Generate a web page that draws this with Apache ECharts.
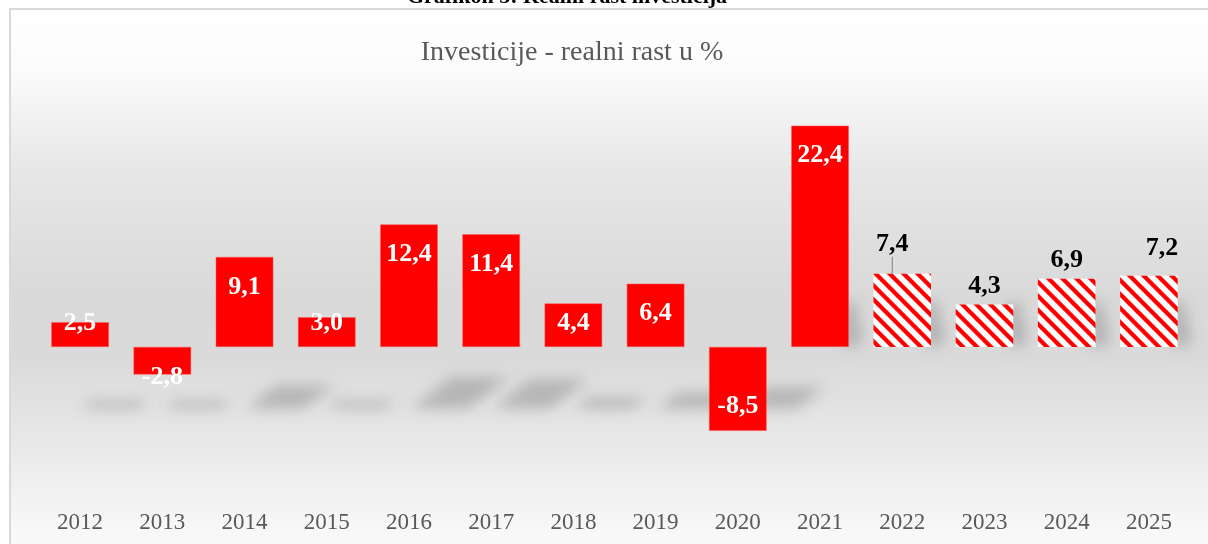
<!DOCTYPE html>
<html>
<head>
<meta charset="utf-8">
<script src="https://cdn.jsdelivr.net/npm/echarts@6/dist/echarts.min.js"></script>
<style>
  html, body { margin: 0; padding: 0; background: #fff; }
  #chart { width: 1208px; height: 544px; }
</style>
</head>
<body>
<div id="chart"></div>
<script>
// podaci
const years = ['2012', '2013', '2014', '2015', '2016', '2017', '2018', '2019', '2020', '2021', '2022', '2023', '2024', '2025']
const growth = [2.5, -2.8, 9.1, 3.0, 12.4, 11.4, 4.4, 6.4, -8.5, 22.4, 7.4, 4.3, 6.9, 7.2]
const forecastYears = ['2022', '2023', '2024', '2025'] // projekcija - šrafirano
const chartTitle = 'Investicije - realni rast u %'
const captionTitle = 'Grafikon 5: Realni rast investicija'

const serif = '"Liberation Serif", "DejaVu Serif", serif'
const yMin = -15
const yMax = 25

const fmt = (v) => v.toFixed(1).replace('.', ',')
const isForecast = (i) => forecastYears.includes(years[i])

// crveno-bijele dijagonalne linije
function stripePattern() {
  const s = 14
  const c = document.createElement('canvas')
  c.width = s
  c.height = s
  const ctx = c.getContext('2d')
  ctx.fillStyle = '#ffffff'
  ctx.fillRect(0, 0, s, s)
  ctx.strokeStyle = '#ff0000'
  ctx.lineWidth = 4.2
  for (let k = -1; k <= 1; k++) {
    ctx.beginPath()
    ctx.moveTo(k * s - 2, -2)
    ctx.lineTo(k * s + s + 2, s + 2)
    ctx.stroke()
  }
  return c
}
const pattern = stripePattern()

const barData = growth.map((v, i) => {
  if (isForecast(i)) {
    return {
      value: v,
      itemStyle: { color: { image: pattern, repeat: 'repeat' }, borderWidth: 0 },
      label: { position: 'top', color: '#000000', distance: 5 },
      labelLine: { show: years[i] === '2022', lineStyle: { color: '#7f7f7f', width: 1 } },
    }
  }
  return { value: v, label: { position: 'inside' } }
})

const myChart = echarts.init(document.getElementById('chart'))

const option = {
  animation: false,
  backgroundColor: '#ffffff',
  grid: { left: 39, right: 18, top: 100, height: 395, containLabel: false },
  graphic: [
    {
      type: 'rect',
      z: -10,
      silent: true,
      shape: { x: 10, y: 9, width: 1400, height: 560 },
      style: {
        fill: new echarts.graphic.LinearGradient(0, 0, 0, 1, [
          { offset: 0, color: '#ffffff' },
          { offset: 0.1, color: '#fcfcfc' },
          { offset: 0.3, color: '#e6e6e6' },
          { offset: 0.52, color: '#d9d9d9' },
          { offset: 0.62, color: '#dadada' },
          { offset: 0.78, color: '#e9e9e9' },
          { offset: 0.92, color: '#f7f7f7' },
          { offset: 1, color: '#fcfcfc' },
        ]),
        stroke: '#d9d9d9',
        lineWidth: 2,
      },
    },
    {
      type: 'text',
      z: 10,
      x: 567,
      y: 8,
      style: {
        text: captionTitle,
        font: 'bold 22px ' + serif,
        fill: '#000000',
        align: 'center',
        verticalAlign: 'bottom',
      },
    },
    {
      type: 'text',
      z: 10,
      x: 572,
      y: 53,
      style: {
        text: chartTitle,
        font: '28px ' + serif,
        fill: '#595959',
        align: 'center',
        verticalAlign: 'middle',
      },
    },
  ],
  xAxis: {
    type: 'category',
    data: years,
    axisLine: { show: false },
    axisTick: { show: false },
    axisLabel: { margin: 16, fontFamily: serif, fontSize: 23, color: '#595959' },
  },
  yAxis: {
    type: 'value',
    min: yMin,
    max: yMax,
    show: false,
    splitLine: { show: false },
  },
  series: [
    // sjene stupaca
    {
      type: 'custom',
      z: 1,
      silent: true,
      clip: false,
      data: growth.map((v, i) => [i, v]),
      renderItem(params, api) {
        const i = api.value(0)
        const v = api.value(1)
        const zero = api.coord([i, 0])
        const end = api.coord([i, v])
        const bw = api.size([1, 0])[0] * 0.7
        const x0 = zero[0] - bw / 2
        const x1 = zero[0] + bw / 2
        const h = Math.abs(end[1] - zero[1])
        const far = 4000
        let pts
        if (Number(years[i]) < 2021) {
          const yb = zero[1] + 62
          const sh = Math.max(8, 0.26 * h)
          const sk = sh * 1.3
          pts = [[x0 + 30, yb], [x1 + 30, yb], [x1 + 30 + sk, yb - sh], [x0 + 30 + sk, yb - sh]]
        } else {
          pts = [[x1 - 6, zero[1]], [x1 + 14, zero[1] - 3], [x1 + 6, zero[1] - 45], [x1 - 6, zero[1] - 45]]
        }
        return {
          type: 'polygon',
          shape: { points: pts.map((p) => [p[0] - far, p[1]]) },
          style: { fill: '#000', shadowBlur: 14, shadowColor: 'rgba(0,0,0,0.19)', shadowOffsetX: far },
        }
      },
    },
    {
      type: 'bar',
      z: 2,
      barCategoryGap: '30%',
      data: barData,
      itemStyle: { color: '#ff0000', borderColor: '#ff5a5a', borderWidth: 0.5 },
      label: {
        show: true,
        formatter: (p) => fmt(p.value),
        fontFamily: serif,
        fontWeight: 'bold',
        fontSize: 26,
        color: '#ffffff',
      },
      labelLine: { show: false },
      labelLayout(p) {
        const i = p.dataIndex
        if (isForecast(i)) {
          if (years[i] === '2022') return { dx: -10, dy: -12 }
          if (years[i] === '2025') return { dx: 13, dy: -9 }
          return {}
        }
        // "inside end", ali labela ne prelazi nulu
        const r = p.rect
        const cy = growth[i] >= 0
          ? Math.min(r.y + 30, r.y + r.height - 24)
          : Math.max(r.y + r.height - 25, r.y + 30)
        return { x: r.x + r.width / 2, y: cy, align: 'center', verticalAlign: 'middle' }
      },
    },
  ],
}

myChart.setOption(option)
</script>
</body>
</html>
